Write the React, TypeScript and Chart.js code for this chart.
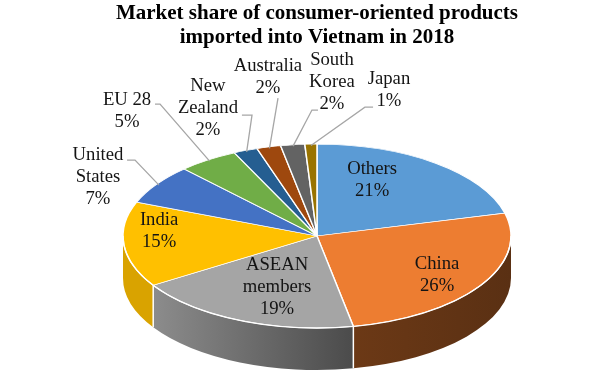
import React, { useEffect, useRef } from 'react';
import { Chart, registerables } from 'chart.js';

Chart.register(...registerables);

// ---------- data ----------
const titleLines = ['Market share of consumer-oriented products', 'imported into Vietnam in 2018'];
const categories = ['Others', 'China', 'ASEAN members', 'India', 'United States', 'EU 28', 'New Zealand', 'Australia', 'South Korea', 'Japan'];
const categoryLines = [['Others'], ['China'], ['ASEAN', 'members'], ['India'], ['United', 'States'], ['EU 28'], ['New', 'Zealand'], ['Australia'], ['South', 'Korea'], ['Japan']];
const shares = [21, 26, 19, 15, 7, 5, 2, 2, 2, 1];
const sliceColors = ['#5B9BD5', '#ED7D31', '#A5A5A5', '#FFC000', '#4472C4', '#70AD47', '#255E91', '#9E480E', '#636363', '#997300'];

// ---------- styling / layout ----------
const TILT = 0.474;
const DEPTH = 42;
const SERIF = '"Liberation Serif", "Times New Roman", serif';
const LABEL_SIZE = 18.7;
const LABEL_LINE = 22;

// label block centres in units of the pie radii (x: rx, y: ry) relative to the centre
type Place = { fx: number; fy: number; lead?: number[][] };
const labelPlacement: Place[] = [
  { fx: 0.284, fy: -0.609 },
  { fx: 0.619, fy: 0.424 },
  { fx: -0.206, fy: 0.554 },
  { fx: -0.814, fy: -0.054 },
  { fx: -1.129, fy: -0.641, lead: [[-0.979, -0.826], [-0.938, -0.826]] },
  { fx: -0.979, fy: -1.359, lead: [[-0.835, -1.435], [-0.809, -1.435]] },
  { fx: -0.562, fy: -1.391, lead: [[-0.387, -1.315], [-0.335, -1.315]] },
  { fx: -0.253, fy: -1.728, lead: [[-0.201, -1.5], [-0.201, -1.5]] },
  { fx: 0.077, fy: -1.674, lead: [[0.005, -1.37], [-0.026, -1.37]] },
  { fx: 0.371, fy: -1.587, lead: [[0.289, -1.402], [0.247, -1.402]] },
];

function shade(hex: string, f: number) {
  const n = parseInt(hex.slice(1), 16);
  const r = Math.round(((n >> 16) & 255) * f);
  const g = Math.round(((n >> 8) & 255) * f);
  const b = Math.round((n & 255) * f);
  return `rgb(${r},${g},${b})`;
}
function sideLight(u: number) {
  return Math.min(0.85, Math.max(0.38, 0.53 - 0.4 * u));
}

const pie3d = {
  id: 'pie3d',
  beforeDatasetsDraw(chart: any) {
    const ctx: CanvasRenderingContext2D = chart.ctx;
    const arcs: any[] = chart.getDatasetMeta(0).data;
    const a0 = arcs[0];
    const cx = a0.x, cy = a0.y, R = a0.outerRadius, ry = R * TILT;
    ctx.save();
    arcs.forEach((el: any, i: number) => {
      const a = Math.max(el.startAngle, 0);
      const b = Math.min(el.endAngle, Math.PI);
      if (b <= a) return;
      const xl = cx + R * Math.cos(b);
      const xr = cx + R * Math.cos(a);
      const g = ctx.createLinearGradient(xl, 0, xr + 0.01, 0);
      g.addColorStop(0, shade(sliceColors[i], sideLight((xl - cx) / R)));
      g.addColorStop(1, shade(sliceColors[i], sideLight((xr - cx) / R)));
      ctx.beginPath();
      ctx.ellipse(cx, cy, R, ry, 0, a, b, false);
      ctx.ellipse(cx, cy + DEPTH, R, ry, 0, b, a, true);
      ctx.closePath();
      ctx.fillStyle = g;
      ctx.fill();
    });
    ctx.strokeStyle = '#ffffff';
    ctx.lineWidth = 1.5;
    arcs.forEach((el: any) => {
      const t = el.endAngle;
      if (t > 0 && t < Math.PI) {
        const x = cx + R * Math.cos(t);
        const y = cy + ry * Math.sin(t);
        ctx.beginPath();
        ctx.moveTo(x, y);
        ctx.lineTo(x, y + DEPTH);
        ctx.stroke();
      }
    });
    ctx.translate(cx, cy);
    ctx.scale(1, TILT);
    ctx.translate(-cx, -cy);
  },
  afterDatasetsDraw(chart: any) {
    const ctx: CanvasRenderingContext2D = chart.ctx;
    ctx.restore();
    const arcs: any[] = chart.getDatasetMeta(0).data;
    const a0 = arcs[0];
    const cx = a0.x, cy = a0.y, R = a0.outerRadius, ry = R * TILT;
    ctx.save();
    // front rim
    ctx.strokeStyle = '#ffffff';
    ctx.lineWidth = 1.3;
    ctx.beginPath();
    ctx.ellipse(cx, cy, R, ry, 0, 0, Math.PI, false);
    ctx.stroke();
    // leader lines
    ctx.strokeStyle = '#a6a6a6';
    ctx.lineWidth = 1.3;
    arcs.forEach((el: any, i: number) => {
      const p = labelPlacement[i];
      if (!p.lead) return;
      const m = (el.startAngle + el.endAngle) / 2;
      ctx.beginPath();
      ctx.moveTo(cx + p.lead[0][0] * R, cy + p.lead[0][1] * ry);
      ctx.lineTo(cx + p.lead[1][0] * R, cy + p.lead[1][1] * ry);
      ctx.lineTo(cx + 0.985 * R * Math.cos(m), cy + 0.985 * ry * Math.sin(m));
      ctx.stroke();
    });
    // labels
    ctx.fillStyle = '#141414';
    ctx.font = `${LABEL_SIZE}px ${SERIF}`;
    ctx.textAlign = 'center';
    ctx.textBaseline = 'middle';
    arcs.forEach((_el: any, i: number) => {
      const p = labelPlacement[i];
      const lines = [...categoryLines[i], `${shares[i]}%`];
      const x = cx + p.fx * R;
      const yc = cy + p.fy * ry;
      const y0 = yc - ((lines.length - 1) * LABEL_LINE) / 2;
      lines.forEach((t, j) => ctx.fillText(t, x, y0 + j * LABEL_LINE));
    });
    ctx.restore();
  },
};

export default function App() {
  const ref = useRef<HTMLCanvasElement | null>(null);
  useEffect(() => {
    if (!ref.current) return;
    const chart = new Chart(ref.current, {
      type: 'pie',
      data: {
        labels: categories,
        datasets: [
          {
            data: shares,
            backgroundColor: sliceColors,
            borderColor: '#ffffff',
            borderWidth: 1.5,
            radius: 194,
            clip: false,
          } as any,
        ],
      },
      options: {
        responsive: false,
        animation: false,
        events: [],
        layout: { padding: { left: 34, right: 0, top: 0, bottom: 40 } },
        plugins: {
          legend: { display: false },
          tooltip: { enabled: false },
          title: {
            display: true,
            text: titleLines,
            color: '#000000',
            font: { family: SERIF, size: 21, weight: 'bold', lineHeight: 1.12 },
            padding: { top: 2, bottom: 86 },
          },
        },
      },
      plugins: [pie3d],
    });
    return () => chart.destroy();
  }, []);
  return (
    <div style={{ position: 'absolute', left: 0, top: 0, width: 600, height: 377, background: '#fff' }}>
      <canvas ref={ref} width={600} height={377} />
    </div>
  );
}
